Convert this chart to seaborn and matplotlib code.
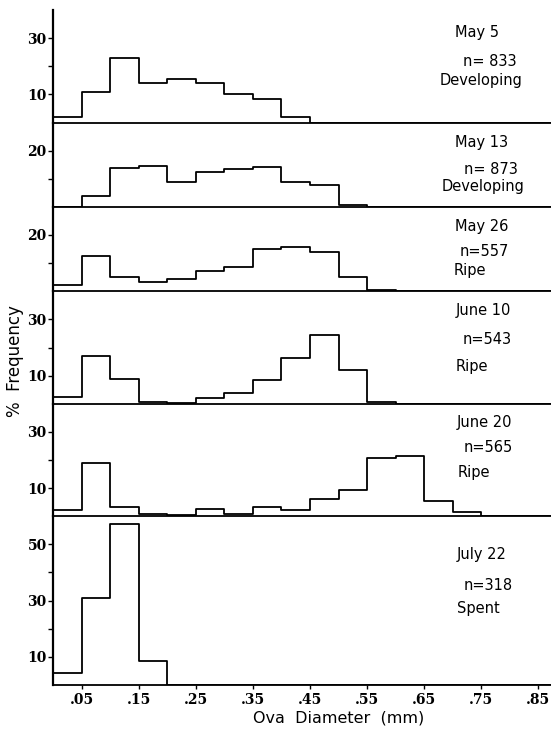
import numpy as np
import pandas as pd
import matplotlib
matplotlib.use("Agg")
import matplotlib.pyplot as plt
import seaborn as sns

# ---------------- data ----------------
bin_edges = np.round(np.arange(0.0, 0.90 + 1e-9, 0.05), 2)
dates = ["May 5", "May 13", "May 26", "June 10", "June 20", "July 22"]
sample_sizes = ["n= 833", "n= 873", "n=557", "n=543", "n=565", "n=318"]
stages = ["Developing", "Developing", "Ripe", "Ripe", "Ripe", "Spent"]

may5 = [2.1, 10.9, 22.9, 14.1, 15.4, 13.9, 10.1, 8.4, 1.8]
may13 = [0.0, 3.8, 13.7, 14.6, 8.8, 12.5, 13.3, 14.3, 9.0, 7.8, 0.7]
may26 = [2.4, 12.5, 5.1, 3.3, 4.4, 7.1, 8.5, 15.1, 15.9, 13.9, 5.1, 0.5]
june10 = [2.4, 16.9, 8.8, 0.5, 0.4, 2.1, 3.8, 8.5, 16.1, 24.3, 12.1, 0.7]
june20 = [2.3, 18.9, 3.4, 0.8, 0.4, 2.6, 0.9, 3.3, 2.1, 6.3, 9.4, 20.6, 21.3, 5.3, 1.4]
july22 = [4.4, 30.9, 57.1, 8.7]
series = [may5, may13, may26, june10, june20, july22]

y_max = [40, 30, 30, 40, 40, 60]
y_labeled = [[10, 30], [20], [20], [10, 30], [10, 30], [10, 30, 50]]
y_minor = [[20], [10], [10], [20], [20], [20, 40]]

x_tick_values = [0.05, 0.15, 0.25, 0.35, 0.45, 0.55, 0.65, 0.75, 0.85]
x_tick_labels = [".05", ".15", ".25", ".35", ".45", ".55", ".65", ".75", ".85"]
x_label = "Ova  Diameter  (mm)"
y_label = "%  Frequency"

# ---------------- style ----------------
sns.set_style("white")
plt.rcParams["font.family"] = ["DejaVu Sans"]
plt.rcParams["text.color"] = "black"
plt.rcParams["xtick.color"] = "black"
plt.rcParams["ytick.color"] = "black"
plt.rcParams["axes.labelcolor"] = "black"

W, H = 551, 733
fig = plt.figure(figsize=(W / 100, H / 100), dpi=100)
gs = fig.add_gridspec(
    len(series), 1, height_ratios=y_max, hspace=0,
    left=53 / W, right=1.0, top=1 - 10 / H, bottom=1 - 685 / H,
)

centers = bin_edges[:-1] + 0.025
tick_font = dict(family="DejaVu Serif", weight="bold", size=10)

text_pos = [
    [(455, 32), (463, 61), (440, 80)],
    [(455, 143), (464, 170), (442, 187)],
    [(455, 227), (460, 252), (454, 270)],
    [(456, 310), (463, 340), (456, 367)],
    [(457, 422), (464, 448), (458, 473)],
    [(457, 555), (464, 585), (457, 608)],
]

axes = []
for i, vals in enumerate(series):
    ax = fig.add_subplot(gs[i])
    axes.append(ax)
    w = np.zeros(len(centers))
    w[: len(vals)] = vals
    df = pd.DataFrame({"diameter": centers, "pct": w})
    sns.histplot(
        data=df, x="diameter", weights="pct", binwidth=0.05,
        binrange=(float(bin_edges[0]), float(bin_edges[-1])), element="step",
        fill=False, color="black", linewidth=1.3, ax=ax,
    )
    ax.set_xlim(0, (W - 53) / 571)
    ax.set_ylim(0, y_max[i])
    ax.set_ylabel("")
    ax.set_xlabel("")
    for s in ["top", "right"]:
        ax.spines[s].set_visible(False)
    ax.spines["left"].set_linewidth(1.6)
    ax.spines["bottom"].set_linewidth(1.3)
    ax.spines["left"].set_color("black")
    ax.spines["bottom"].set_color("black")
    ax.set_yticks(y_labeled[i])
    ax.set_yticklabels([str(v) for v in y_labeled[i]], fontdict=tick_font)
    ax.set_yticks(y_minor[i], minor=True)
    ax.tick_params(axis="y", which="both", direction="out", length=3.5,
                   width=1.0, color="black", labelcolor="black", pad=1, left=True)
    ax.patch.set_alpha(0)
    if i < len(series) - 1:
        ax.set_xticks([])
    else:
        ax.set_xticks(x_tick_values)
        ax.set_xticklabels(x_tick_labels, fontdict=tick_font)
        ax.tick_params(axis="x", direction="out", length=3, width=1.0,
                       color="black", labelcolor="black", pad=3, bottom=True)
    for (px, py), txt in zip(text_pos[i], [dates[i], sample_sizes[i], stages[i]]):
        fig.text(px / W, 1 - py / H, txt, fontsize=10.5, ha="left", va="center",
                 color="black")

fig.text(339 / W, 1 - 718 / H, x_label, fontsize=11.5, ha="center", va="center",
         color="black")
fig.text(15 / W, 1 - 361 / H, y_label, fontsize=12, ha="center", va="center",
         rotation=90, color="black")

fig.savefig("out.png", dpi=100)
